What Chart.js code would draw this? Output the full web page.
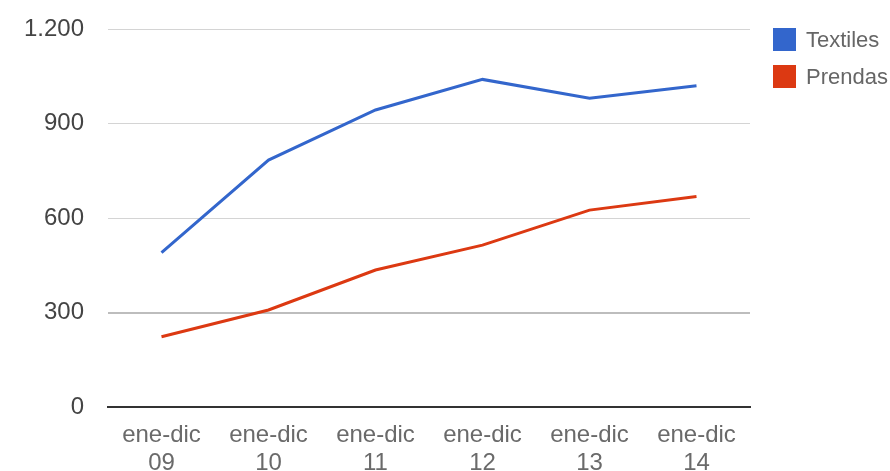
<!DOCTYPE html>
<html>
<head>
<meta charset="utf-8">
<script src="https://cdn.jsdelivr.net/npm/chart.js@4/dist/chart.umd.min.js"></script>
<style>
  html, body { margin: 0; padding: 0; background: #fff; }
  canvas { display: block; }
</style>
</head>
<body>
<canvas id="chart" width="890" height="471"></canvas>
<script>
// Periods (two-line axis labels)
const categories = [
  ['ene-dic', '09'], ['ene-dic', '10'], ['ene-dic', '11'],
  ['ene-dic', '12'], ['ene-dic', '13'], ['ene-dic', '14']
];
const seriesNames = ['Textiles', 'Prendas'];
const textiles = [490, 784, 943, 1040, 980, 1020];
const prendas = [223, 308, 435, 514, 625, 668];
const yTicks = [0, 300, 600, 900, 1200];

const FONT = "'Liberation Sans', Arial, sans-serif";
const COLORS = ['#3366cc', '#dc3912'];

// Spanish thousands separator: 1200 -> "1.200"
function fmt(v) {
  return String(v).replace(/\B(?=(\d{3})+(?!\d))/g, '.');
}

// Legend drawn at the top right, next to the plot area
const sideLegend = {
  id: 'sideLegend',
  afterDraw(chart) {
    const ctx = chart.ctx;
    ctx.save();
    ctx.font = '22px ' + FONT;
    ctx.textBaseline = 'middle';
    ctx.textAlign = 'left';
    chart.data.datasets.forEach((ds, i) => {
      const x = 773, y = 28 + i * 37, s = 23;
      ctx.fillStyle = ds.borderColor;
      ctx.fillRect(x, y, s, s);
      ctx.fillStyle = '#666';
      ctx.fillText(ds.label, x + 33, y + s / 2 + 1);
    });
    ctx.restore();
  }
};

new Chart(document.getElementById('chart'), {
  type: 'line',
  data: {
    labels: categories,
    datasets: [
      { label: seriesNames[0], data: textiles, borderColor: COLORS[0], backgroundColor: COLORS[0] },
      { label: seriesNames[1], data: prendas, borderColor: COLORS[1], backgroundColor: COLORS[1] }
    ]
  },
  options: {
    responsive: false,
    devicePixelRatio: 1,
    animation: false,
    layout: { padding: { top: 29, right: 140, bottom: 0, left: 0 } },
    elements: {
      line: { borderWidth: 3, tension: 0 },
      point: { radius: 0, hoverRadius: 0 }
    },
    plugins: {
      legend: { display: false },
      tooltip: { enabled: false }
    },
    scales: {
      x: {
        type: 'category',
        offset: true,
        grid: { display: false, drawTicks: false },
        border: { display: true, color: '#333', width: 2 },
        ticks: {
          color: '#6a6a6a',
          font: { family: FONT, size: 24, lineHeight: 1.17 },
          padding: 14,
          maxRotation: 0,
          autoSkip: false
        },
        afterFit(scale) { scale.height = 64; scale.paddingTop = 0; }
      },
      y: {
        min: 0,
        max: 1200,
        afterBuildTicks(scale) { scale.ticks = yTicks.map(v => ({ value: v })); },
        grid: {
          drawTicks: false,
          color: ctx => ctx.tick && ctx.tick.value === 0 ? 'rgba(0,0,0,0)' : (ctx.tick && ctx.tick.value === 300 ? '#bdbdbd' : '#d4d4d4'),
          lineWidth: ctx => ctx.tick && ctx.tick.value === 300 ? 2 : 1
        },
        border: { display: false },
        ticks: {
          color: '#444',
          font: { family: FONT, size: 24 },
          padding: 24,
          callback: v => fmt(v)
        },
        afterFit(scale) { scale.width = 108; scale.paddingTop = 0; scale.paddingBottom = 0; }
      }
    }
  },
  plugins: [sideLegend]
});
</script>
</body>
</html>
